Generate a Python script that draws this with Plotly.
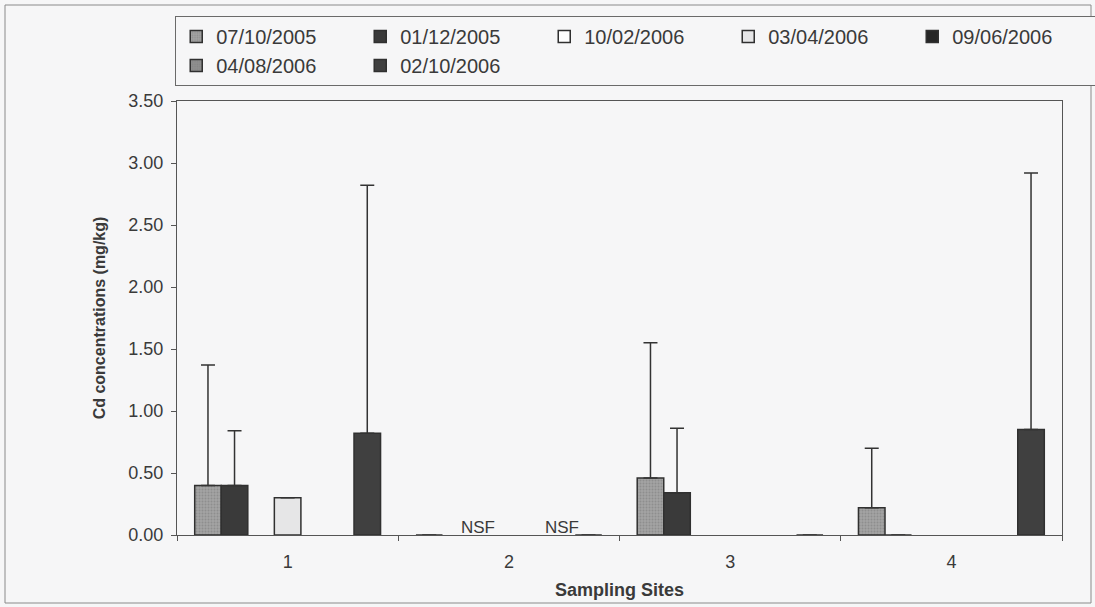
import plotly.graph_objects as go

# ---------------- data ----------------
sites = ["1", "2", "3", "4"]
series_names = ["07/10/2005", "01/12/2005", "10/02/2006", "03/04/2006",
                "09/06/2006", "04/08/2006", "02/10/2006"]

v_0710_2005 = [0.40, 0.00, 0.46, 0.22]
v_0112_2005 = [0.40, None, 0.34, 0.00]
v_1002_2006 = [None, None, None, None]
v_0304_2006 = [0.30, None, None, None]
v_0906_2006 = [None, None, None, None]
v_0408_2006 = [None, None, None, None]
v_0210_2006 = [0.82, 0.00, 0.00, 0.85]

e_0710_2005 = [0.97, 0.00, 1.09, 0.48]
e_0112_2005 = [0.44, None, 0.52, 0.00]
e_1002_2006 = [None, None, None, None]
e_0304_2006 = [None, None, None, None]
e_0906_2006 = [None, None, None, None]
e_0408_2006 = [None, None, None, None]
e_0210_2006 = [2.00, 0.00, 0.00, 2.07]

values = [v_0710_2005, v_0112_2005, v_1002_2006, v_0304_2006,
          v_0906_2006, v_0408_2006, v_0210_2006]
errors = [e_0710_2005, e_0112_2005, e_1002_2006, e_0304_2006,
          e_0906_2006, e_0408_2006, e_0210_2006]

nsf_site = "2"
nsf_labels = ["NSF", "NSF"]

# ---------------- styling ----------------
fills = ["#a3a3a3", "#3a3a3a", "#ffffff", "#e6e6e7", "#262626", "#8f8f8f", "#404040"]
patterns = [".", "", "", "", "", ".", ""]
BG = "#f6f6f7"
FONT = "Liberation Sans, Arial, sans-serif"
TXT = "#3a3a3a"

W, H = 1095, 607
ML, MR, MT, MB = 177, 33, 101, 72
pw, ph = W - ML - MR, H - MT - MB

fig = go.Figure()
for name, vals, errs, col, pat in zip(series_names, values, errors, fills, patterns):
    marker = dict(color=col, line=dict(color="#303030", width=1.5))
    if pat:
        marker["pattern"] = dict(shape=pat, size=3, solidity=0.35,
                                 fgcolor="#7a7a7a", bgcolor=col, fillmode="overlay")
    fig.add_trace(go.Bar(
        x=sites, y=vals, name=name, marker=marker,
        error_y=dict(type="data", symmetric=False, array=errs,
                     arrayminus=[0 if e is not None else None for e in errs],
                     color="#333333", thickness=1.5, width=7),
    ))

# NSF labels (site 2) - category index used for positioning
nsf_idx = sites.index(nsf_site)
for lab, shift in zip(nsf_labels, [-31, 53]):
    fig.add_annotation(x=nsf_idx, y=0, xref="x", yref="y", text=lab, showarrow=False,
                       xshift=shift, yshift=8,
                       font=dict(family=FONT, size=17, color=TXT))

# outer chart frame
fig.add_shape(type="rect", xref="paper", yref="paper",
              x0=(5 - ML) / pw, x1=(1091 - ML) / pw,
              y0=-(603 - (H - MB)) / ph, y1=1 + (MT - 5) / ph,
              line=dict(color="#8a8a8a", width=1), fillcolor="rgba(0,0,0,0)", layer="below")

fig.update_layout(
    width=W, height=H,
    margin=dict(l=ML, r=MR, t=MT, b=MB, autoexpand=False),
    paper_bgcolor=BG, plot_bgcolor=BG,
    barmode="group", bargap=0.16, bargroupgap=0,
    font=dict(family=FONT, color=TXT),
    showlegend=True,
    legend=dict(orientation="h", xref="paper", yref="paper",
                x=-0.002, xanchor="left", y=1 + (MT - 16) / ph, yanchor="top",
                entrywidth=139, entrywidthmode="pixels",
                font=dict(family=FONT, size=20, color=TXT),
                bgcolor=BG, bordercolor="#6a6a6a", borderwidth=1,
                traceorder="normal"),
    xaxis=dict(type="category", showline=True, linecolor="#555555", linewidth=1.2,
               mirror=True, ticks="outside", ticklen=5, tickcolor="#555555",
               tickson="boundaries", showgrid=False, ticklabelstandoff=10,
               tickfont=dict(family=FONT, size=18, color=TXT),
               title=dict(text="<b>Sampling Sites</b>", standoff=12,
                          font=dict(family=FONT, size=18, color=TXT))),
    yaxis=dict(range=[0, 3.5], dtick=0.5, tickformat=".2f", showline=True,
               linecolor="#555555", linewidth=1.2, mirror=True, ticks="outside",
               ticklen=5, tickcolor="#555555", showgrid=False, zeroline=False,
               ticklabelstandoff=4,
               tickfont=dict(family=FONT, size=18, color=TXT),
               title=dict(text="<b>Cd concentrations (mg/kg)</b>", standoff=18,
                          font=dict(family=FONT, size=16, color=TXT))),
)

fig.write_html("out.html", config={"displayModeBar": False},
               post_script="document.body.style.margin='0';")
